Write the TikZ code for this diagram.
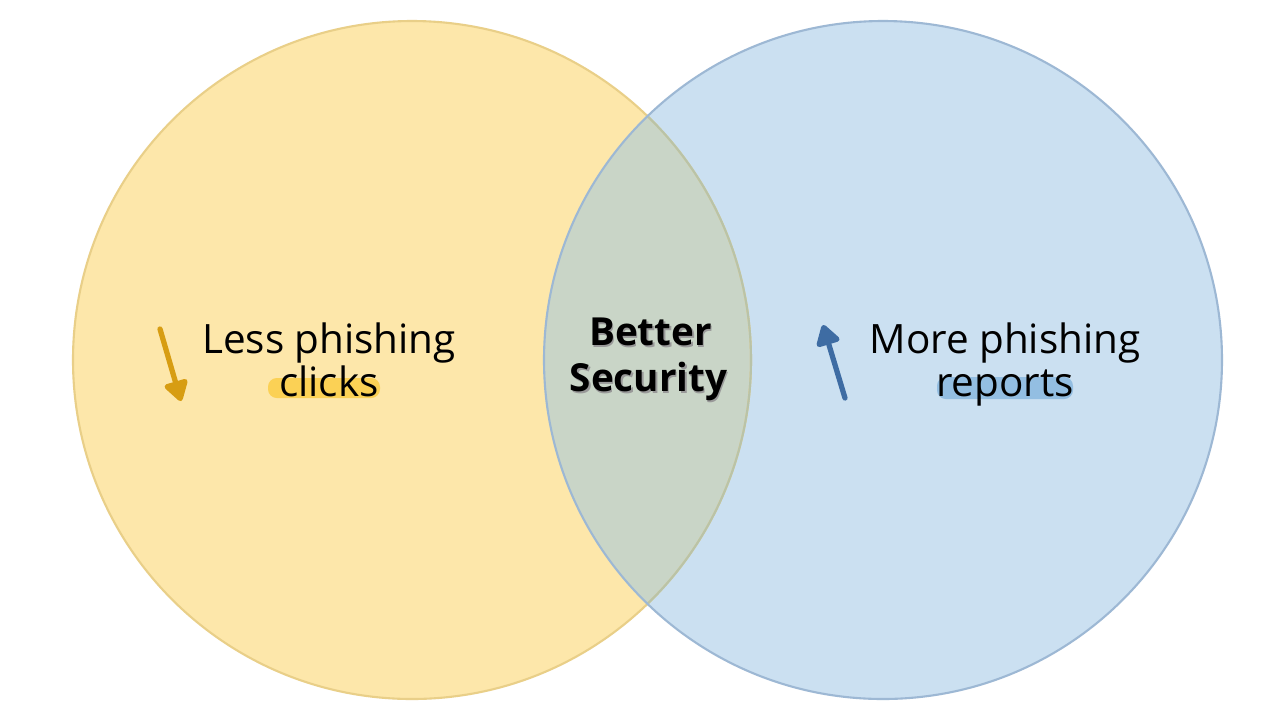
\documentclass[tikz,border=0pt]{standalone}
\usepackage{fontspec}
\setmainfont{Open Sans}
\usepackage{xcolor}
\usetikzlibrary{arrows.meta}
\definecolor{sunfill}{HTML}{FDE7AA}
\definecolor{sunline}{HTML}{E9CF88}
\definecolor{skyfill}{HTML}{CBE0F1}
\definecolor{skyline}{HTML}{9DB8D4}
\definecolor{mixfill}{HTML}{C9D5C7}
\definecolor{mixline}{HTML}{B9C3A8}
\definecolor{sunarrow}{HTML}{D79D12}
\definecolor{skyarrow}{HTML}{3E6CA3}
\definecolor{sunmark}{HTML}{FBD155}
\definecolor{skymark}{HTML}{93BEE2}

\begin{document}
\begin{tikzpicture}[
  x=0.1mm, y=-0.1mm,
  label/.style={font=\fontsize{11.5}{14}\selectfont, inner sep=0pt, anchor=base},
  core/.style={font=\fontsize{11}{13.5}\selectfont\bfseries, inner sep=0pt, anchor=base},
  trend/.style={line width=1.5pt, line cap=round, -{Triangle[round, length=6.5pt, width=7.5pt]}}
]
\useasboundingbox (0,0) rectangle (1280,720);
\fill[white] (0,0) rectangle (1280,720);

% the two sets
\fill[sunfill] (412,360) circle [radius=33.9mm];
\fill[skyfill] (883,360) circle [radius=33.9mm];
\begin{scope}
  \clip (412,360) circle [radius=33.9mm];
  \fill[mixfill] (883,360) circle [radius=33.9mm];
\end{scope}
\draw[sunline, line width=0.6pt] (412,360) circle [radius=33.9mm];
\begin{scope}
  \clip (883,360) circle [radius=33.9mm];
  \draw[mixline, line width=0.6pt] (412,360) circle [radius=33.9mm];
\end{scope}
\draw[skyline, line width=0.6pt] (883,360) circle [radius=33.9mm];

% highlighter marks
\fill[sunmark, rounded corners=2.5pt] (268,378) rectangle (380,398);
\fill[skymark, rounded corners=2.5pt] (937,377) rectangle (1073,399);

% left set
\node[label] (lessline) at (329,353) {Less phishing};
\node[label] (clicks) at (329,396) {clicks};

% right set
\node[label] (moreline) at (1005,353) {More phishing};
\node[label] (reports) at (1005,396) {reports};

% overlap, with its shadow
\node[core, text=black!40] (bettershadow) at (652,347) {Better};
\node[core, text=black!40] (securityshadow) at (650,393) {Security};
\node[core] (better) at (650.5,345.5) {Better};
\node[core] (security) at (648.5,391.5) {Security};

% trends
\coordinate (downtail) at (160,329);
\coordinate (downtip) at (181,401);
\coordinate (uptail) at (845,398);
\coordinate (uptip) at (823,325);
\draw[trend, sunarrow] (downtail) -- (downtip);
\draw[trend, skyarrow] (uptail) -- (uptip);
\end{tikzpicture}
\end{document}
